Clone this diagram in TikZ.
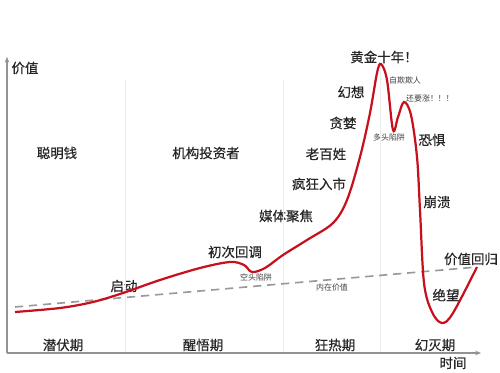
\documentclass[tikz,border=0pt]{standalone}
\usepackage{fontspec}
\setmainfont{Noto Sans CJK SC}
\newfontfamily\heavycjk{Noto Sans CJK SC}[FakeBold=0.5]
\usepackage{tikz}
\definecolor{curvered}{RGB}{200,16,28}
\tikzset{
     arrow/.style={-{Stealth[length=5pt,width=4pt]}},
     axis/.style={draw=gray!85, line width=1pt},
     phaseline/.style={draw=gray!15, line width=0.8pt},
     lbl/.style={font=\heavycjk\fontsize{11.5}{13}\selectfont, text=black!85, inner sep=0pt},
     small/.style={font=\fontsize{6.8}{8}\selectfont, text=black!75, inner sep=0pt},
     price/.style={draw=curvered, line width=1.9pt},
     value/.style={draw=gray!80, line width=1.4pt, dash pattern=on 7pt off 5pt}
     }
\usetikzlibrary{positioning,arrows.meta}

\begin{document}
\begin{tikzpicture}[x=0.03cm,y=-0.03cm]
                    \useasboundingbox (0,0) rectangle (500,373);
                    % Place nodes
                    \coordinate (origin) at (7,353);
                    \coordinate (ytop) at (7,57);
                    \coordinate (xend) at (481,353);
                    \node [lbl] (valueax) at (25,68) {价值};
                    \node [lbl] (timeax) at (453,363) {时间};
                    \node [lbl] (smart) at (57,153) {聪明钱};
                    \node [lbl] (inst) at (206,153) {机构投资者};
                    \node [lbl] (public) at (326,154) {老百姓};
                    \node [lbl] (latent) at (63,345) {潜伏期};
                    \node [lbl] (aware) at (203,345) {醒悟期};
                    \node [lbl] (mania) at (335,345) {狂热期};
                    \node [lbl] (blowoff) at (435,345) {幻灭期};
                    \node [lbl] (start) at (124,286) {启动};
                    \node [lbl] (firstdip) at (235,252) {初次回调};
                    \node [lbl] (media) at (286,216) {媒体聚焦};
                    \node [lbl] (rush) at (319,184) {疯狂入市};
                    \node [lbl] (greed) at (343,123) {贪婪};
                    \node [lbl] (illusion) at (351,92) {幻想};
                    \node [lbl] (golden) at (384,57) {黄金十年！};
                    \node [lbl] (fear) at (432,140) {恐惧};
                    \node [lbl] (crash) at (437,202) {崩溃};
                    \node [lbl] (despair) at (446,295) {绝望};
                    \node [lbl] (revert) at (471,259) {价值回归};
                    \node [small] (beartrap) at (256,277) {空头陷阱};
                    \node [small] (intrinsic) at (332,287) {内在价值};
                    \node [small] (selfdecept) at (405,80) {自欺欺人};
                    \node [small] (stillup) at (430,99) {还要涨！！！};
                    \node [small] (bulltrap) at (389,137) {多头陷阱};
                    % Phase separators
                    \draw [phaseline] (125,80) -- (125,353);
                    \draw [phaseline] (283,80) -- (283,353);
                    \draw [phaseline] (380,65) -- (380,353);
                    % Draw edges
                    \draw [axis,arrow] (origin) -- (ytop);
                    \draw [axis,arrow] (origin) -- (xend);
                    \draw [value] (15,307) -- (477,267);
                    % \draw [price] plot coordinates {(15,312) (477,267)};
                    \draw [price] plot [smooth, tension=0.55] coordinates {
                      (15,312) (60,308) (93,302) (123,293) (160,280) (200,268)
                      (230,262) (244,265) (252,272) (265,268) (283,255) (307,240)
                      (333,223) (347,200) (360,157) (370,113) (377,73) (381,64)
                      (387,80) (393,130) (398,117) (404,102) (411,115) (417,157)
                      (420,210) (424,283) (432,312) (442,323) (453,313) (477,267)};
                \end{tikzpicture}
\end{document}
